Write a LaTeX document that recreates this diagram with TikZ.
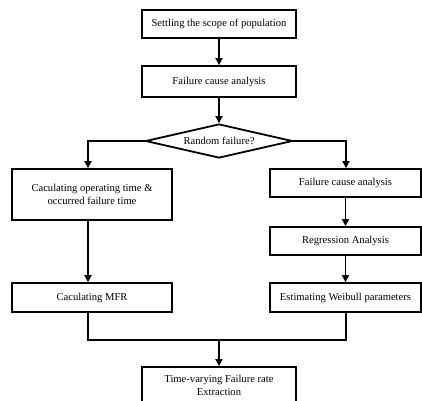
\documentclass[tikz,border=0pt]{standalone}
\usepackage{fontspec}
\setmainfont{Liberation Serif}
\usetikzlibrary{shapes.geometric,arrows.meta}
\begin{document}
\begin{tikzpicture}[x=1pt,y=-1pt,
  txt/.style={font=\fontsize{10.6}{13}\selectfont},
  box/.style={draw,line width=1.8pt,rectangle,inner sep=0pt,align=center,txt},
  conn/.style={line width=1.8pt},
  arr/.style={conn,-{Triangle[length=7pt,width=7pt]}}]
\useasboundingbox (0,0) rectangle (422,400);
\node[box,minimum width=154pt,minimum height=28pt] (b1) at (219,24) {Settling the scope of population};
\node[box,minimum width=154pt,minimum height=31pt] (b2) at (219,81.5) {Failure cause analysis};
\node[draw,line width=1.8pt,diamond,aspect=4.3,inner sep=0pt,minimum width=147pt,minimum height=34pt,txt] (d) at (219,141) {Random failure?};
\node[box,minimum width=160pt,minimum height=51pt] (l1) at (92,194.5) {Caculating operating time \&\\occurred failure time};
\node[box,minimum width=160pt,minimum height=29pt] (l2) at (92,297.5) {Caculating MFR};
\node[box,minimum width=151pt,minimum height=28pt] (r1) at (345.5,183) {Failure cause analysis};
\node[box,minimum width=151pt,minimum height=28pt] (r2) at (345.5,241) {Regression Analysis};
\node[box,minimum width=151pt,minimum height=29pt] (r3) at (345.5,297.5) {Estimating Weibull parameters};
\node[box,minimum width=154pt,minimum height=36pt] (f) at (219,385) {Time-varying Failure rate\\Extraction};
\coordinate (jl) at (88,340);
\coordinate (jr) at (346,340);
\coordinate (jm) at (219,340);
\draw[arr] (b1) -- (b2);
\draw[arr] (b2) -- (d.north);
\draw[arr] (d.west) -| (l1.north -| jl);
\draw[arr] (d.east) -| (r1.north -| jr);
\draw[arr] (l1.south -| jl) -- (l2.north -| jl);
\draw[arr] (r1) -- (r2);
\draw[arr] (r2) -- (r3);
\draw[conn] (l2.south -| jl) -- (jl) -- (jr) -- (r3.south -| jr);
\draw[arr] (jm) -- (f.north);
\end{tikzpicture}
\end{document}
